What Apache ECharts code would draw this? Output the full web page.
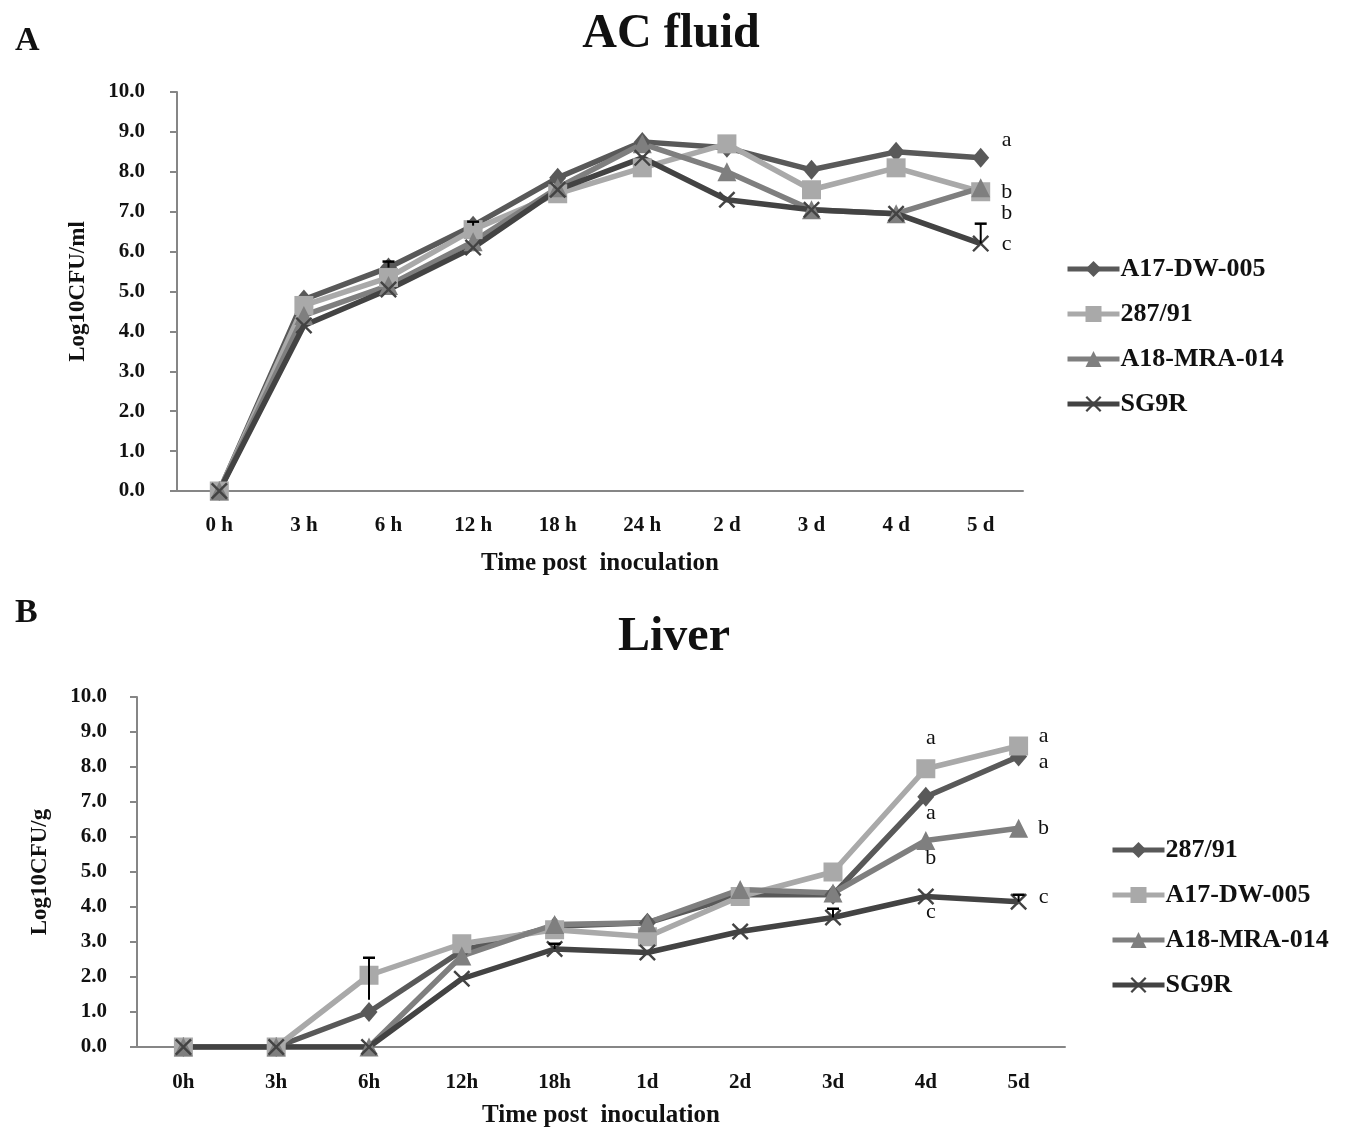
<!DOCTYPE html>
<html>
<head>
    <meta charset="UTF-8">
    <title>AC fluid / Liver</title>
    <script type="text/javascript" src="https://cdn.jsdelivr.net/npm/echarts@6/dist/echarts.min.js"></script>
</head>
<body style="margin:0;background-color:#ffffff;">
  <div id="main" style="width:1348px;height:1128px;"></div>

  <script>
    // panel A - AC fluid
    var catsA = ['0 h', '3 h', '6 h', '12 h', '18 h', '24 h', '2 d', '3 d', '4 d', '5 d'];
    var acA17 = [0, 4.8, 5.6, 6.65, 7.85, 8.75, 8.6, 8.05, 8.5, 8.35];
    var ac287 = [0, 4.65, 5.35, 6.55, 7.45, 8.1, 8.7, 7.55, 8.1, 7.5];
    var acA18 = [0, 4.4, 5.15, 6.25, 7.6, 8.7, 8.0, 7.05, 6.95, 7.6];
    var acSG9R = [0, 4.15, 5.05, 6.1, 7.55, 8.35, 7.3, 7.05, 6.95, 6.2];
    var acErr = [[2, 5.6, 5.75], [3, 6.65, 6.75], [9, 6.2, 6.7]];
    var acLetters = [[9, 8.8, 'a'], [9, 7.5, 'b'], [9, 6.97, 'b'], [9, 6.19, 'c']];

    // panel B - Liver
    var catsB = ['0h', '3h', '6h', '12h', '18h', '1d', '2d', '3d', '4d', '5d'];
    var lv287 = [0, 0, 1.0, 2.75, 3.45, 3.55, 4.35, 4.35, 7.15, 8.3];
    var lvA17 = [0, 0, 2.05, 2.95, 3.35, 3.15, 4.3, 5.0, 7.95, 8.6];
    var lvA18 = [0, 0, 0, 2.6, 3.5, 3.55, 4.5, 4.4, 5.9, 6.25];
    var lvSG9R = [0, 0, 0, 1.95, 2.8, 2.7, 3.3, 3.7, 4.3, 4.15];
    var lvErr = [[2, 1.35, 2.55], [4, 2.8, 2.95], [7, 3.7, 3.95], [9, 4.15, 4.35]];
    var lvLetters = [[8, 8.83, 'a'], [8, 6.69, 'a'], [8, 5.4, 'b'], [8, 3.86, 'c'],
                     [9, 8.89, 'a'], [9, 8.14, 'a'], [9, 6.26, 'b'], [9, 4.29, 'c']];

    var FONT = '"Liberation Serif", "DejaVu Serif", serif';
    var AXIS = '#868686';
    var crossPath = 'path://M0,2 L2,0 L10,8 L18,0 L20,2 L12,10 L20,18 L18,20 L10,12 L2,20 L0,18 L8,10 Z';

    function lineSeries(name, data, idx, color, symbol, size) {
        return {
            name: name, type: 'line', data: data,
            xAxisIndex: idx, yAxisIndex: idx,
            symbol: symbol, symbolSize: size,
            lineStyle: {color: color, width: 5.5},
            itemStyle: {color: color},
            z: 3, animation: false
        };
    }

    function errSeries(data, idx) {
        return {
            type: 'custom', xAxisIndex: idx, yAxisIndex: idx, data: data, z: 4,
            silent: true, animation: false,
            renderItem: function (params, api) {
                var lo = api.coord([api.value(0), api.value(1)]);
                var hi = api.coord([api.value(0), api.value(2)]);
                return {type: 'group', children: [
                    {type: 'line', shape: {x1: lo[0], y1: lo[1], x2: hi[0], y2: hi[1]}, style: {stroke: '#000', lineWidth: 2}},
                    {type: 'line', shape: {x1: hi[0] - 6, y1: hi[1], x2: hi[0] + 6, y2: hi[1]}, style: {stroke: '#000', lineWidth: 2.5}}
                ]};
            }
        };
    }

    // letters to the right of the last points (4d letters in B sit almost on the point)
    function letterSeries(data, idx, dxFor) {
        return {
            type: 'custom', xAxisIndex: idx, yAxisIndex: idx, data: data, z: 5,
            silent: true, animation: false,
            renderItem: function (params, api) {
                var p = api.coord([api.value(0), api.value(1)]);
                return {type: 'text', x: p[0] + dxFor(api.value(0)), y: p[1], style: {
                    text: data[params.dataIndex][2], font: '22px ' + FONT,
                    fill: '#111', align: 'center', verticalAlign: 'middle'}};
            }
        };
    }

    function yAxis(idx, name, gap, margin) {
        return {
            type: 'value', gridIndex: idx, min: 0, max: 10, interval: 1,
            name: name, nameLocation: 'middle', nameGap: gap, nameRotate: 90,
            nameTextStyle: {fontFamily: FONT, fontWeight: 'bold', fontSize: 23, color: '#111'},
            axisLine: {show: true, lineStyle: {color: AXIS, width: 2}},
            axisTick: {show: true, length: 7, lineStyle: {color: AXIS, width: 2}},
            axisLabel: {formatter: function (v) { return v.toFixed(1); }, margin: margin,
                fontFamily: FONT, fontWeight: 'bold', fontSize: 21, color: '#111'},
            splitLine: {show: false}
        };
    }

    function xAxis(idx, cats, gap, margin) {
        return {
            type: 'category', gridIndex: idx, data: cats, boundaryGap: true,
            name: 'Time post  inoculation', nameLocation: 'middle', nameGap: gap,
            nameTextStyle: {fontFamily: FONT, fontWeight: 'bold', fontSize: 25, color: '#111'},
            axisLine: {lineStyle: {color: AXIS, width: 2}},
            axisTick: {length: 8, lineStyle: {color: AXIS, width: 2}},
            axisLabel: {margin: margin, fontFamily: FONT, fontWeight: 'bold', fontSize: 21, color: '#111'}
        };
    }

    function legend(prefix, left, top, names) {
        return {
            orient: 'vertical', left: left, top: top, itemGap: 19,
            itemWidth: 52, itemHeight: 20,
            data: names.map(function (n) { return prefix + n; }),
            formatter: function (n) { return n.split('|')[1]; },
            lineStyle: {width: 5},
            textStyle: {fontFamily: FONT, fontWeight: 'bold', fontSize: 26, color: '#111', padding: [0, 0, 0, -4]},
            selectedMode: false
        };
    }

    var chart = echarts.init(document.getElementById('main'), null, {renderer: 'canvas'});
    chart.setOption({
        backgroundColor: '#ffffff',
        animation: false,
        title: [
            {text: 'A', left: 10, top: 19, textStyle: {fontFamily: FONT, fontWeight: 'bold', fontSize: 34, color: '#111'}},
            {text: 'AC fluid', left: 666, top: 6, textAlign: 'center', textStyle: {fontFamily: FONT, fontWeight: 'bold', fontSize: 48, color: '#111'}},
            {text: 'B', left: 10, top: 591, textStyle: {fontFamily: FONT, fontWeight: 'bold', fontSize: 34, color: '#111'}},
            {text: 'Liver', left: 669, top: 609, textAlign: 'center', textStyle: {fontFamily: FONT, fontWeight: 'bold', fontSize: 48, color: '#111'}}
        ],
        legend: [
            legend('A|', 1060, 251, ['A17-DW-005', '287/91', 'A18-MRA-014', 'SG9R']),
            legend('B|', 1105, 832, ['287/91', 'A17-DW-005', 'A18-MRA-014', 'SG9R'])
        ],
        grid: [
            {left: 177, top: 92, width: 846, height: 399, outerBoundsMode: 'none'},
            {left: 137, top: 697, width: 928, height: 350, outerBoundsMode: 'none'}
        ],
        xAxis: [xAxis(0, catsA, 60, 24), xAxis(1, catsB, 56, 25)],
        yAxis: [yAxis(0, 'Log10CFU/ml', 87, 32), yAxis(1, 'Log10CFU/g', 85, 30)],
        series: [
            lineSeries('A|A17-DW-005', acA17, 0, '#595959', 'diamond', [17, 20]),
            lineSeries('A|287/91', ac287, 0, '#a9a9a9', 'rect', 19),
            lineSeries('A|A18-MRA-014', acA18, 0, '#7f7f7f', 'triangle', 19),
            lineSeries('A|SG9R', acSG9R, 0, '#434343', crossPath, 17),
            errSeries(acErr, 0),
            letterSeries(acLetters, 0, function () { return 26; }),
            lineSeries('B|287/91', lv287, 1, '#595959', 'diamond', [17, 20]),
            lineSeries('B|A17-DW-005', lvA17, 1, '#a9a9a9', 'rect', 19),
            lineSeries('B|A18-MRA-014', lvA18, 1, '#7f7f7f', 'triangle', 19),
            lineSeries('B|SG9R', lvSG9R, 1, '#434343', crossPath, 17),
            errSeries(lvErr, 1),
            letterSeries(lvLetters, 1, function (c) { return c === 9 ? 25 : 5; })
        ]
    });
</script>

</body>
</html>
